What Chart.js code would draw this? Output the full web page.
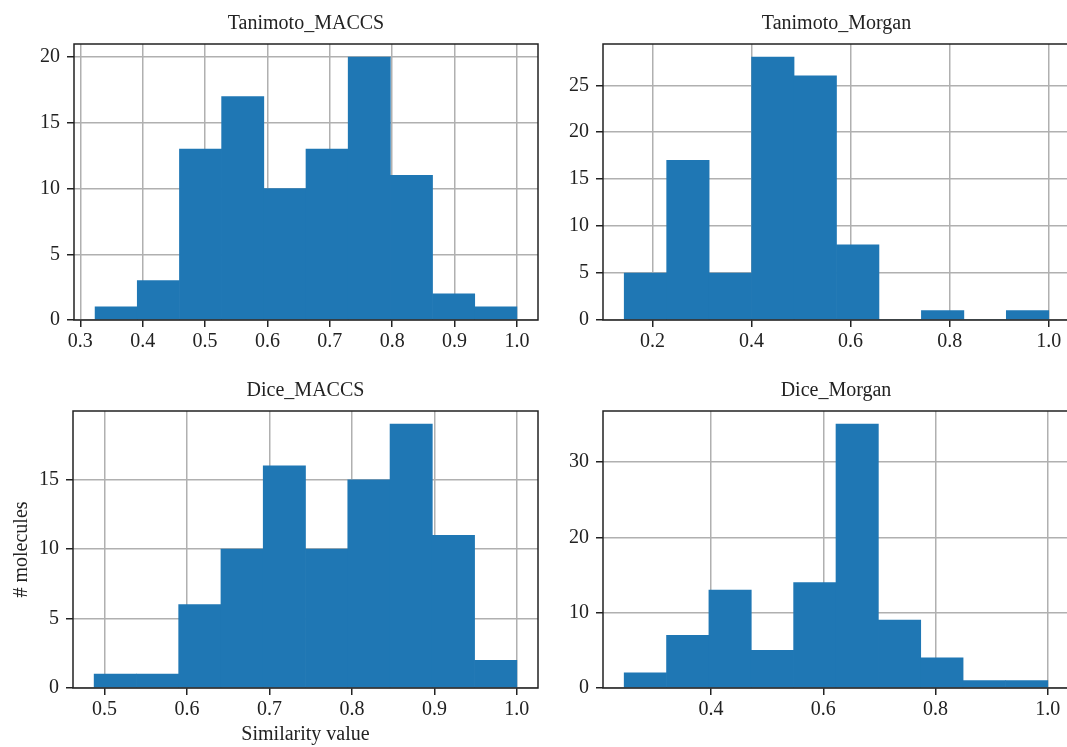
<!DOCTYPE html>
<html>
<head>
<meta charset="utf-8">
<title>Similarity histograms</title>
<script src="https://cdn.jsdelivr.net/npm/chart.js@4.4.0/dist/chart.umd.min.js"></script>
<style>
  html, body { margin: 0; padding: 0; background: #fff; width: 1067px; height: 747px; overflow: hidden; }
  .panel { position: absolute; }
  canvas { display: block; }
</style>
</head>
<body>
<div class="panel" id="p0"><canvas id="c0"></canvas></div>
<div class="panel" id="p1"><canvas id="c1"></canvas></div>
<div class="panel" id="p2"><canvas id="c2"></canvas></div>
<div class="panel" id="p3"><canvas id="c3"></canvas></div>
<script>
// histogram data: [first bin edge, last bin edge] and 10 bin counts each
const tanimotoMaccsRange = [0.3237, 1.0];
const tanimotoMaccsCounts = [1, 3, 13, 17, 10, 13, 20, 11, 2, 1];
const tanimotoMorganRange = [0.143, 1.0];
const tanimotoMorganCounts = [5, 17, 5, 28, 26, 8, 0, 1, 0, 1];
const diceMaccsRange = [0.4874, 1.0];
const diceMaccsCounts = [1, 1, 6, 10, 16, 10, 15, 19, 11, 2];
const diceMorganRange = [0.2452, 1.0];
const diceMorganCounts = [2, 7, 13, 5, 14, 35, 9, 4, 1, 1];

// tick labels
const tanimotoMaccsXTicks = [0.3, 0.4, 0.5, 0.6, 0.7, 0.8, 0.9, 1.0];
const tanimotoMaccsYTicks = [0, 5, 10, 15, 20];
const tanimotoMorganXTicks = [0.2, 0.4, 0.6, 0.8, 1.0];
const tanimotoMorganYTicks = [0, 5, 10, 15, 20, 25];
const diceMaccsXTicks = [0.5, 0.6, 0.7, 0.8, 0.9, 1.0];
const diceMaccsYTicks = [0, 5, 10, 15];
const diceMorganXTicks = [0.4, 0.6, 0.8, 1.0];
const diceMorganYTicks = [0, 10, 20, 30];

const xLabel = 'Similarity value';
const yLabel = '# molecules';

const ink = '#222222';
const gridColor = '#b0b0b0';
const barColor = '#1f77b4';
const fontFamily = "'Liberation Serif', 'DejaVu Serif', serif";

const panels = [
  { title: 'Tanimoto_MACCS', range: tanimotoMaccsRange, counts: tanimotoMaccsCounts,
    xTicks: tanimotoMaccsXTicks, yTicks: tanimotoMaccsYTicks,
    box: { x: 0, y: 0, w: 560, h: 365 }, area: { l: 74, t: 44, r: 538, b: 320 }, titleY: 23.5 },
  { title: 'Tanimoto_Morgan', range: tanimotoMorganRange, counts: tanimotoMorganCounts,
    xTicks: tanimotoMorganXTicks, yTicks: tanimotoMorganYTicks,
    box: { x: 560, y: 0, w: 515, h: 365 }, area: { l: 603, t: 44, r: 1070, b: 320 }, titleY: 23.5 },
  { title: 'Dice_MACCS', range: diceMaccsRange, counts: diceMaccsCounts,
    xTicks: diceMaccsXTicks, yTicks: diceMaccsYTicks,
    box: { x: 0, y: 365, w: 560, h: 382 }, area: { l: 73, t: 411, r: 538, b: 688 }, titleY: 391,
    xTitle: xLabel, yTitle: yLabel },
  { title: 'Dice_Morgan', range: diceMorganRange, counts: diceMorganCounts,
    xTicks: diceMorganXTicks, yTicks: diceMorganYTicks,
    box: { x: 560, y: 365, w: 515, h: 382 }, area: { l: 603, t: 411, r: 1069, b: 688 }, titleY: 391 }
];

// black box round every axes, like matplotlib spines
const frame = {
  id: 'frame',
  afterDraw(chart) {
    const { left, top, right, bottom } = chart.chartArea;
    const ctx = chart.ctx;
    ctx.save();
    ctx.strokeStyle = ink;
    ctx.lineWidth = 1.5;
    ctx.strokeRect(left, top, right - left, bottom - top);
    ctx.restore();
  }
};

function makeChart(p, i) {
  const holder = document.getElementById('p' + i);
  holder.style.left = p.box.x + 'px';
  holder.style.top = p.box.y + 'px';
  const canvas = document.getElementById('c' + i);
  canvas.width = p.box.w;
  canvas.height = p.box.h;

  const lo = p.range[0], hi = p.range[1];
  const binWidth = (hi - lo) / p.counts.length;
  const margin = (hi - lo) * 0.05;
  const yMax = Math.max(...p.counts) * 1.05;
  const data = p.counts.map((c, k) => ({ x: lo + (k + 0.5) * binWidth, y: c }));
  const font = { family: fontFamily, size: 20, weight: 'normal', lineHeight: 1.2 };

  new Chart(canvas.getContext('2d'), {
    type: 'bar',
    data: {
      datasets: [{
        data: data,
        backgroundColor: barColor,
        borderWidth: 0,
        barPercentage: 1,
        categoryPercentage: 1
      }]
    },
    options: {
      responsive: false,
      animation: false,
      devicePixelRatio: 1,
      layout: { padding: { left: 0, top: 0, bottom: 0, right: p.box.x + p.box.w - p.area.r } },
      plugins: {
        legend: { display: false },
        tooltip: { enabled: false },
        title: {
          display: true,
          text: p.title,
          fullSize: false,
          color: ink,
          font: font,
          padding: { top: p.titleY - p.box.y - 12, bottom: p.area.t - p.titleY - 12 }
        }
      },
      scales: {
        x: {
          type: 'linear',
          bounds: 'data',
          offset: false,
          min: lo - margin,
          max: hi + margin,
          z: 1,
          border: { display: false },
          grid: { offset: false, color: gridColor, lineWidth: 1.5, tickColor: ink, tickWidth: 1.5, tickLength: 7 },
          ticks: { autoSkip: false, maxRotation: 0, padding: 3, color: ink, font: font,
                   callback: v => v.toFixed(1) },
          title: { display: !!p.xTitle, text: p.xTitle || '', color: ink, font: font, padding: { top: 0, bottom: 0 } },
          afterBuildTicks: s => { s.ticks = p.xTicks.map(v => ({ value: v })); },
          afterFit: s => { s.height = p.box.y + p.box.h - p.area.b; }
        },
        y: {
          type: 'linear',
          bounds: 'data',
          min: 0,
          max: yMax,
          z: 1,
          border: { display: false },
          grid: { color: gridColor, lineWidth: 1.5, tickColor: ink, tickWidth: 1.5, tickLength: 7 },
          ticks: { autoSkip: false, padding: 7, color: ink, font: font, callback: v => String(v) },
          title: { display: !!p.yTitle, text: p.yTitle || '', color: ink, font: font, padding: { top: 10, bottom: 0 } },
          afterBuildTicks: s => { s.ticks = p.yTicks.map(v => ({ value: v })); },
          afterFit: s => { s.width = p.area.l - p.box.x; }
        }
      }
    },
    plugins: [frame]
  });
}

panels.forEach(makeChart);
</script>
</body>
</html>
